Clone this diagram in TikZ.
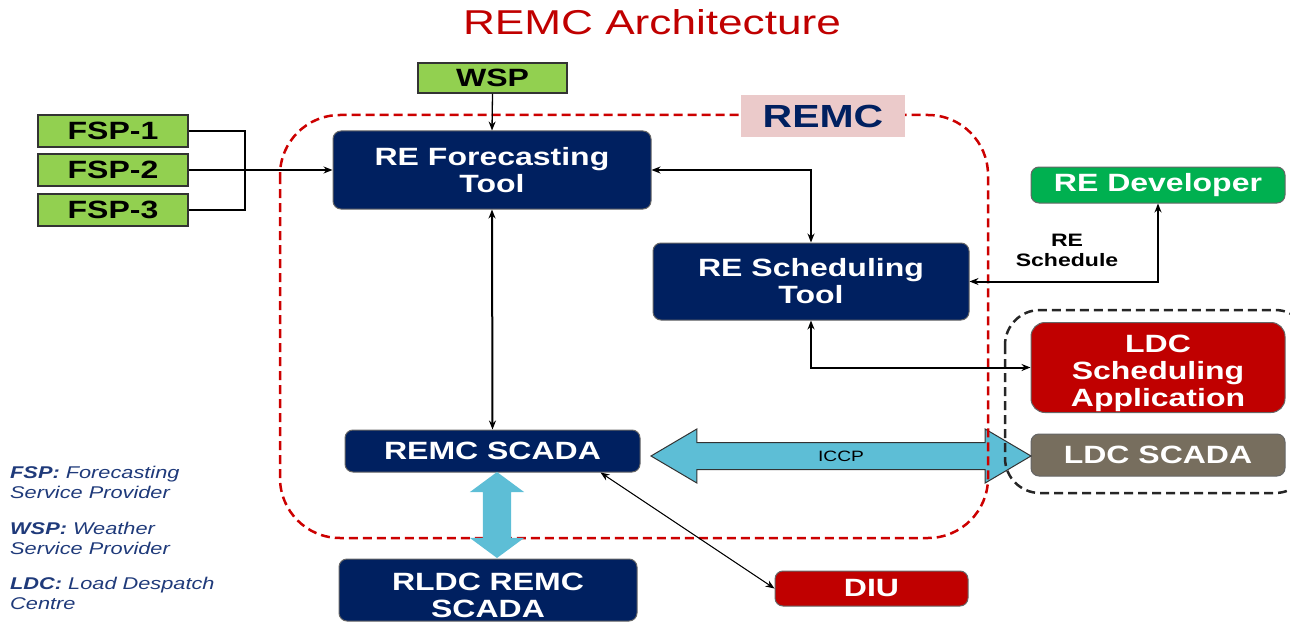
\documentclass[tikz,border=0pt]{standalone}
\usepackage{fontspec}
\setmainfont{Liberation Sans}[FakeStretch=1.28]
\usetikzlibrary{arrows.meta,shapes.arrows}
\definecolor{navy}{HTML}{002060}
\definecolor{fspgreen}{HTML}{92D050}
\definecolor{devgreen}{HTML}{00B050}
\definecolor{ldcred}{HTML}{C00000}
\definecolor{ldcgrey}{HTML}{776E5E}
\definecolor{remcpink}{HTML}{EBCACA}
\definecolor{iccpblue}{HTML}{5DBED6}
\definecolor{keyblue}{HTML}{1F3A7A}
\newcommand{\bxfont}{\fontsize{25}{27}\selectfont\bfseries}
\newcommand{\tagfont}{\fontsize{32}{34}\selectfont\bfseries}
\newcommand{\ttlfont}{\fontsize{34.5}{36}\selectfont}
\newcommand{\notefont}{\fontsize{18}{20}\selectfont\bfseries}
\newcommand{\iccpfont}{\fontsize{15}{15}\selectfont}
\newcommand{\keyfont}{\fontsize{17}{19.5}\selectfont\itshape}
\begin{document}
\begin{tikzpicture}[x=1pt,y=-1pt,
  hd/.tip={Stealth[length=9pt,width=7pt]},
  box/.style={rounded corners=8pt,draw=black!60,line width=1pt,align=center,inner sep=0pt,font=\bxfont,text=white},
  navybox/.style={box,fill=navy},
  greenbox/.style={draw=black!80,line width=1.5pt,fill=fspgreen,font=\bxfont,inner sep=0pt},
  link/.style={line width=2pt,hd-hd},
  feed/.style={line width=1.3pt},
  key/.style={anchor=north west,align=left,inner sep=0pt,font=\keyfont,text=keyblue},
  bigarrow/.style={double arrow,fill=iccpblue}]
\useasboundingbox (0,0) rectangle (1290,623);
\node[font=\ttlfont,text=ldcred] (title) at (652,22) {REMC Architecture};
\node[greenbox,minimum width=149pt,minimum height=30pt] (wsp) at (492.5,78) {WSP};
\node[greenbox,minimum width=150pt,minimum height=32pt] (fsp1) at (113,131) {FSP-1};
\node[greenbox,minimum width=150pt,minimum height=32pt] (fsp2) at (113,170) {FSP-2};
\node[greenbox,minimum width=150pt,minimum height=32pt] (fsp3) at (113,210) {FSP-3};
\node[navybox,minimum width=318pt,minimum height=78pt] (ref) at (492,170) {RE Forecasting\\Tool};
\node[navybox,minimum width=316pt,minimum height=77pt] (res) at (811,281.5) {RE Scheduling\\Tool};
\node[navybox,minimum width=295pt,minimum height=42pt] (scada) at (492.5,451) {REMC SCADA};
\node[navybox,minimum width=298pt,minimum height=62pt] (rldc) at (488,590) {\rule{0pt}{28pt}RLDC REMC\\SCADA};
\node[box,fill=ldcred,minimum width=193pt,minimum height=35pt] (diu) at (871.5,588.5) {DIU};
\node[box,fill=devgreen,minimum width=254pt,minimum height=36pt] (dev) at (1158,185) {RE Developer};
\node[box,fill=ldcred,rounded corners=14pt,minimum width=254pt,minimum height=90pt] (ldcapp) at (1158,367.5) {\rule{0pt}{30pt}LDC\\Scheduling\\Application};
\node[box,fill=ldcgrey,minimum width=254pt,minimum height=42pt] (ldcscada) at (1158,455) {LDC SCADA};
\node[bigarrow,draw=black!80,line width=1pt,minimum height=380pt,minimum width=53pt,double arrow head extend=13.5pt,double arrow tip angle=61,
  inner xsep=0pt,inner ysep=8pt,font=\iccpfont,text height=10pt,text depth=0pt] (iccp) at (841,456) {ICCP};
\draw[red!80!black,line width=2.5pt,dash pattern=on 9pt off 5pt,rounded corners=60pt] (280,115) rectangle (988,538);
\draw[black!85,line width=2.5pt,dash pattern=on 9pt off 5pt,rounded corners=35pt] (1005,310) rectangle (1310,493);
\node[fill=remcpink,font=\tagfont,text=navy,minimum width=164pt,minimum height=42pt,inner sep=0pt] (remc) at (823,116) {REMC};
\node[bigarrow,rotate=90,minimum height=86pt,minimum width=54pt,double arrow head extend=13pt,double arrow tip angle=107,inner sep=14pt] (updown) at (497,515) {};
\coordinate (fspbus) at (245,170);
\draw[feed] (fsp1.east) -| (fspbus) |- (fsp3.east);
\draw[line width=2pt,-hd] (fsp2.east) -- (ref.west);
\draw[feed,-hd] (wsp.south) -- (ref.north);
\draw[link] (ref.east) -| (res.north);
\draw[link] (ref.south) -- (scada.north);
\draw[link] (dev.south) |- (res.east);
\draw[link] (res.south) |- (ldcapp.west);
\draw[line width=1pt,hd-hd] ([xshift=-40pt]scada.south east) -- (diu.west);
\node[font=\notefont,align=center] (sched) at (1067,250) {RE\\Schedule};
\node[key] (fspkey) at (10,466) {\textbf{FSP:} Forecasting\\Service Provider};
\node[key] (wspkey) at (10,522) {\textbf{WSP:} Weather\\Service Provider};
\node[key] (ldckey) at (10,577) {\textbf{LDC:} Load Despatch\\Centre};
\end{tikzpicture}
\end{document}
